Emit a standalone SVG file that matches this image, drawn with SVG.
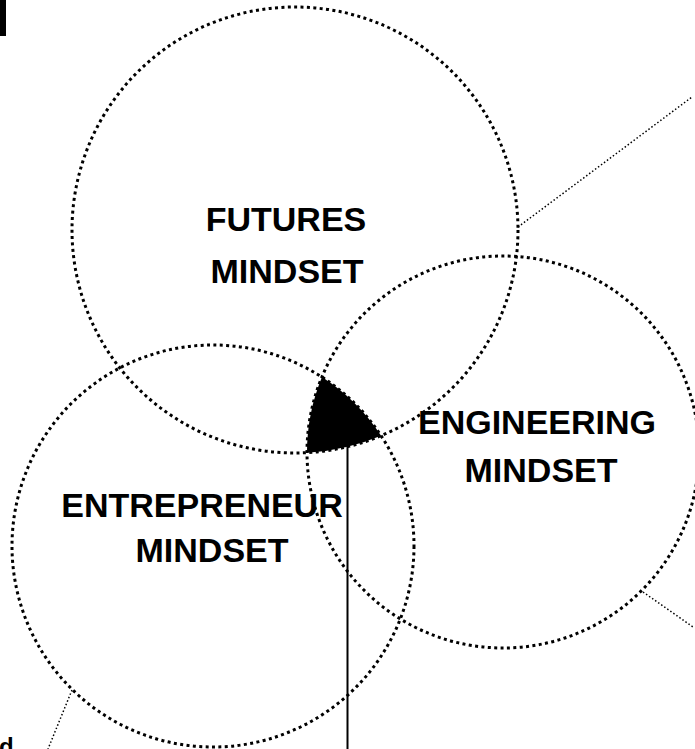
<svg xmlns="http://www.w3.org/2000/svg" width="695" height="749" viewBox="0 0 695 749">
<style>
.c{fill:none;stroke:#000;stroke-width:3;stroke-dasharray:3 3.4}
.t{fill:none;stroke:#000;stroke-width:1.5;stroke-dasharray:1.5 2.2}
.lbl{font-family:"Liberation Sans",Arial,sans-serif;font-weight:bold;font-size:34px;fill:#000;text-anchor:middle}
</style>
<rect x="0" y="0" width="6" height="36" fill="#000"/>
<g id="connectors">
<line class="t" x1="518" y1="227" x2="692" y2="97"/>
<line class="t" x1="643" y1="592" x2="693" y2="627"/>
<line class="t" x1="72" y1="690" x2="48" y2="749"/>
<line x1="347.5" y1="445" x2="347.5" y2="749" stroke="#000" stroke-width="2"/>
</g>
<g id="intersection">
<path d="M322,377 A201,201 0 0 1 381.1,435.7 A223,223 0 0 1 307,452.7 A196,196 0 0 1 322,377 Z" fill="#000"/>
</g>
<g id="futures">
<circle class="c" cx="295" cy="230" r="223"/>
<text class="lbl" x="286" y="231">FUTURES</text>
<text class="lbl" x="287" y="283">MINDSET</text>
</g>
<g id="engineering">
<circle class="c" cx="503" cy="452" r="196"/>
<text class="lbl" x="537" y="434">ENGINEERING</text>
<text class="lbl" x="541" y="482">MINDSET</text>
</g>
<g id="entrepreneur">
<circle class="c" cx="213" cy="546" r="201"/>
<text class="lbl" x="202" y="517">ENTREPRENEUR</text>
<text class="lbl" x="212" y="562">MINDSET</text>
</g>
<text x="-1" y="755" font-family="Liberation Sans,Arial,sans-serif" font-weight="bold" font-size="24">d</text>
</svg>
